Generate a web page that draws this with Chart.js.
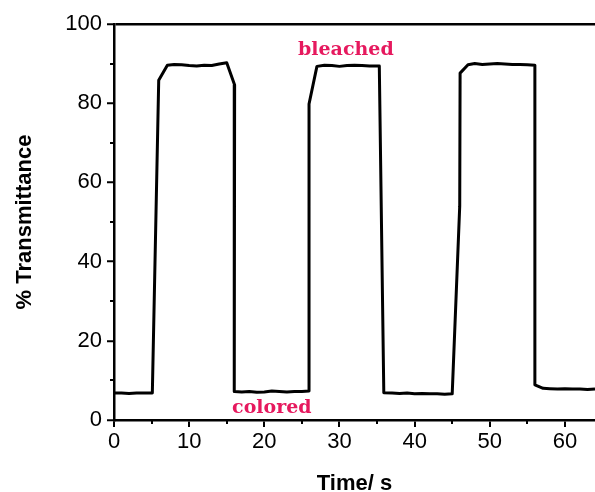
<!DOCTYPE html>
<html>
<head>
<meta charset="utf-8">
<script src="https://cdn.jsdelivr.net/npm/chart.js@4/dist/chart.umd.min.js"></script>
<style>
  html, body { margin: 0; padding: 0; background: #ffffff; }
  #wrap { width: 595px; height: 492px; }
</style>
</head>
<body>
<div id="wrap"><canvas id="c" width="595" height="492"></canvas></div>
<script>
// ---- data ----
const timeS = [0, 1, 2, 3, 4, 5.1, 5.95, 7.1, 8, 9, 10, 11, 12, 13, 14, 15.0, 16.05,
  16.0, 17, 18, 19, 20, 21, 22, 23, 24, 25, 25.95,
  25.95, 27.0, 28, 29, 30, 31, 32, 33, 34, 35.3,
  35.9, 37, 38, 39, 40, 41, 42, 43, 44, 45.0,
  46.0, 46.05, 47.1, 48, 49, 50, 51, 52, 53, 54, 55, 56.0,
  56.0, 57.1, 58, 59, 60, 61, 62, 63, 64];
const transmittance = [6.8, 6.8, 6.7, 6.8, 6.8, 6.8, 85.8, 89.6, 89.8, 89.7, 89.5, 89.4, 89.6, 89.5, 89.9, 90.2, 84.6,
  7.2, 7.1, 7.2, 7.0, 7.1, 7.3, 7.2, 7.1, 7.2, 7.2, 7.3,
  79.8, 89.3, 89.6, 89.5, 89.3, 89.5, 89.6, 89.5, 89.4, 89.4,
  6.9, 6.8, 6.7, 6.8, 6.6, 6.7, 6.6, 6.6, 6.5, 6.6,
  54.0, 87.6, 89.7, 90.0, 89.8, 89.9, 90.0, 89.9, 89.8, 89.8, 89.7, 89.6,
  8.9, 8.0, 7.9, 7.8, 7.9, 7.8, 7.8, 7.7, 7.8];
const xTicksMajor = [0, 10, 20, 30, 40, 50, 60];
const xTicksMinor = [5, 15, 25, 35, 45, 55];
const yTicksMajor = [0, 20, 40, 60, 80, 100];
const yTicksMinor = [10, 30, 50, 70, 90];
const noteTexts = ['bleached', 'colored'];
const noteX = [30.85, 21.0];
const noteY = [92.2, 1.7];

const points = timeS.map((t, i) => ({ x: t, y: transmittance[i] }));

const extras = {
  id: 'extras',
  afterDraw(chart) {
    const ctx = chart.ctx;
    const xs = chart.scales.x, ys = chart.scales.y;
    const ca = chart.chartArea;
    ctx.save();
    ctx.strokeStyle = '#000';
    ctx.lineWidth = 2;
    ctx.beginPath();
    xTicksMinor.forEach(v => {
      const px = Math.round(xs.getPixelForValue(v));
      ctx.moveTo(px, ca.bottom);
      ctx.lineTo(px, ca.bottom + 4);
    });
    yTicksMinor.forEach(v => {
      const py = Math.round(ys.getPixelForValue(v));
      ctx.moveTo(ca.left, py);
      ctx.lineTo(ca.left - 4, py);
    });
    ctx.stroke();
    ctx.fillStyle = '#e6195e';
    ctx.font = 'bold 19px "DejaVu Serif"';
    ctx.textAlign = 'center';
    ctx.textBaseline = 'alphabetic';
    noteTexts.forEach((t, i) => {
      ctx.fillText(t, xs.getPixelForValue(noteX[i]), ys.getPixelForValue(noteY[i]));
    });
    ctx.restore();
  }
};

new Chart(document.getElementById('c'), {
  type: 'scatter',
  data: {
    datasets: [{
      data: points,
      showLine: true,
      borderColor: '#000',
      borderWidth: 3,
      pointRadius: 0,
      tension: 0,
      borderJoinStyle: 'round',
      fill: false
    }]
  },
  options: {
    responsive: false,
    animation: false,
    events: [],
    layout: { padding: { top: 24, right: 0, left: 0, bottom: 0 } },
    plugins: { legend: { display: false }, tooltip: { enabled: false } },
    scales: {
      x: {
        type: 'linear',
        min: 0, max: 64,
        afterFit(s) { s.height = 72; },
        afterBuildTicks(s) { s.ticks = xTicksMajor.map(v => ({ value: v })); },
        ticks: { color: '#000', font: { family: '"Liberation Sans", Arial', size: 22 }, padding: 2, maxRotation: 0, includeBounds: false },
        grid: { display: true, drawOnChartArea: false, drawTicks: true, tickLength: 7, tickColor: '#000', tickWidth: 2, lineWidth: 2 },
        border: { display: true, color: '#000', width: 2.5 },
        title: { display: true, text: 'Time/ s', color: '#000', font: { family: '"Liberation Sans", Arial', size: 22, weight: 'bold' }, padding: { top: 0, bottom: -5 } }
      },
      y: {
        type: 'linear',
        min: 0, max: 100,
        afterFit(s) { s.width = 114; },
        afterBuildTicks(s) { s.ticks = yTicksMajor.map(v => ({ value: v })); },
        ticks: { color: '#000', font: { family: '"Liberation Sans", Arial', size: 22 }, padding: 5 },
        grid: {
          display: true, drawOnChartArea: true, drawTicks: true, tickLength: 7,
          tickColor: '#000', tickWidth: 2, lineWidth: 2.5,
          color: (c) => (c.tick && c.tick.value === 100) ? '#000' : 'rgba(0,0,0,0)'
        },
        border: { display: true, color: '#000', width: 2.5 },
        title: { display: true, text: '% Transmittance', color: '#000', font: { family: '"Liberation Sans", Arial', size: 22, weight: 'bold' }, padding: { top: 12, bottom: 0 } }
      }
    }
  },
  plugins: [extras]
});
</script>
</body>
</html>
